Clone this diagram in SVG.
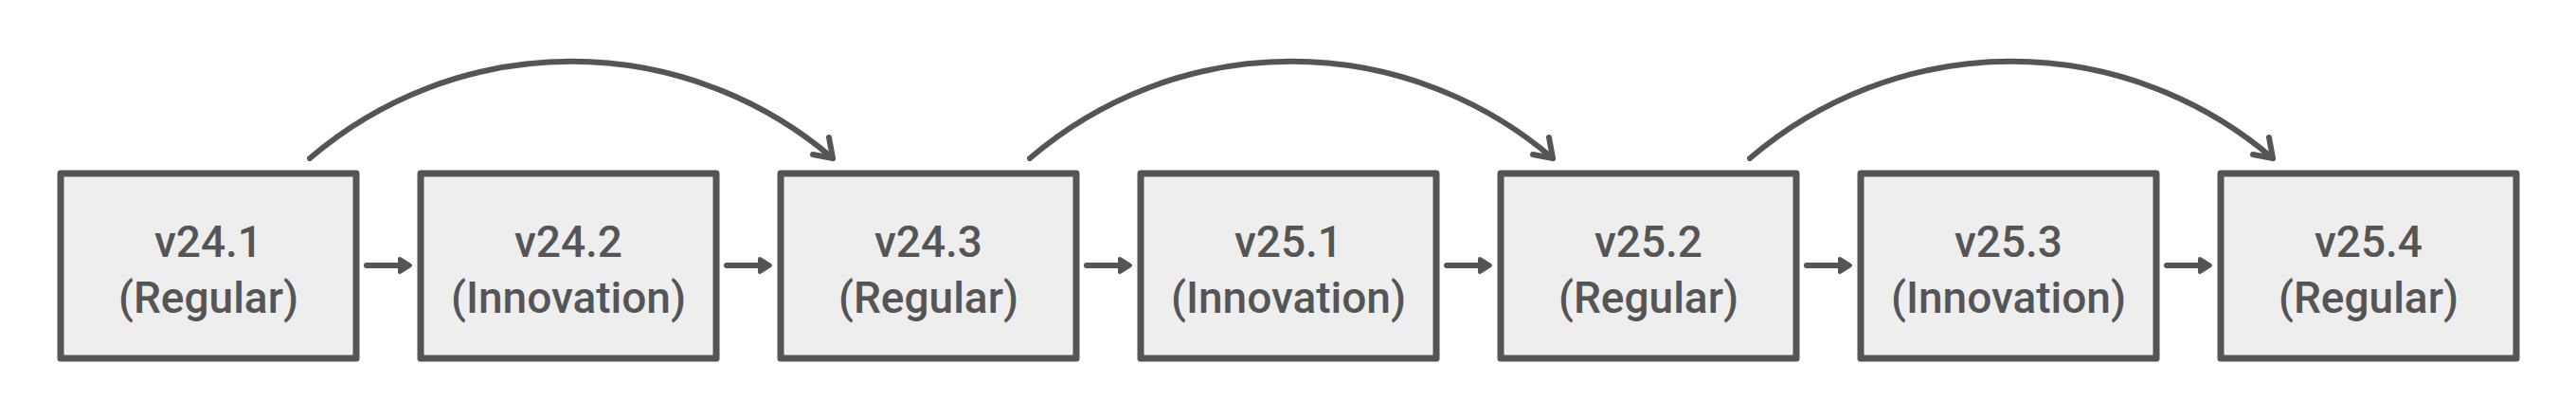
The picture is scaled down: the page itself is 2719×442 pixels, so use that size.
<svg xmlns="http://www.w3.org/2000/svg" width="2719" height="442" viewBox="0 0 2719 442">
<defs>
<style>
.box{fill:#eeeeee;stroke:#555555;stroke-width:7;stroke-linejoin:round}
.t{font-family:Roboto,"Noto Sans",sans-serif;font-size:46px;font-weight:500;fill:#555555;text-anchor:middle}
.c{fill:none;stroke:#555555;stroke-width:6;stroke-linecap:round;stroke-linejoin:round}
.h{fill:#555555;stroke:#555555;stroke-width:4;stroke-linejoin:round}
</style>
</defs>
<rect width="2719" height="442" fill="#ffffff"/>
<g id="n1"><rect class="box" x="64" y="183" width="312" height="195"/><text class="t" x="220" y="271">v24.1</text><text class="t" x="220" y="330">(Regular)</text></g>
<g id="n2"><rect class="box" x="444" y="183" width="312" height="195"/><text class="t" x="600" y="271">v24.2</text><text class="t" x="600" y="330">(Innovation)</text></g>
<g id="n3"><rect class="box" x="824" y="183" width="312" height="195"/><text class="t" x="980" y="271">v24.3</text><text class="t" x="980" y="330">(Regular)</text></g>
<g id="n4"><rect class="box" x="1204" y="183" width="312" height="195"/><text class="t" x="1360" y="271">v25.1</text><text class="t" x="1360" y="330">(Innovation)</text></g>
<g id="n5"><rect class="box" x="1584" y="183" width="312" height="195"/><text class="t" x="1740" y="271">v25.2</text><text class="t" x="1740" y="330">(Regular)</text></g>
<g id="n6"><rect class="box" x="1964" y="183" width="312" height="195"/><text class="t" x="2120" y="271">v25.3</text><text class="t" x="2120" y="330">(Innovation)</text></g>
<g id="n7"><rect class="box" x="2344" y="183" width="312" height="195"/><text class="t" x="2500" y="271">v25.4</text><text class="t" x="2500" y="330">(Regular)</text></g>
<g id="connectors">
<g id="e12"><path class="c" d="M387 280 H422"/><path class="h" d="M422 273 L433 280 L422 287 Z"/></g>
<g id="e23"><path class="c" d="M767 280 H802"/><path class="h" d="M802 273 L813 280 L802 287 Z"/></g>
<g id="e34"><path class="c" d="M1147 280 H1182"/><path class="h" d="M1182 273 L1193 280 L1182 287 Z"/></g>
<g id="e45"><path class="c" d="M1527 280 H1562"/><path class="h" d="M1562 273 L1573 280 L1562 287 Z"/></g>
<g id="e56"><path class="c" d="M1907 280 H1942"/><path class="h" d="M1942 273 L1953 280 L1942 287 Z"/></g>
<g id="e67"><path class="c" d="M2287 280 H2322"/><path class="h" d="M2322 273 L2333 280 L2322 287 Z"/></g>
<g id="e13"><path class="c" d="M327 167 A424 424 0 0 1 879 167"/><path class="c" d="M875 145 L879 167 L858 163"/></g>
<g id="e35"><path class="c" d="M1087 167 A424 424 0 0 1 1639 167"/><path class="c" d="M1635 145 L1639 167 L1618 163"/></g>
<g id="e57"><path class="c" d="M1847 167 A424 424 0 0 1 2399 167"/><path class="c" d="M2395 145 L2399 167 L2378 163"/></g>
</g>
</svg>
